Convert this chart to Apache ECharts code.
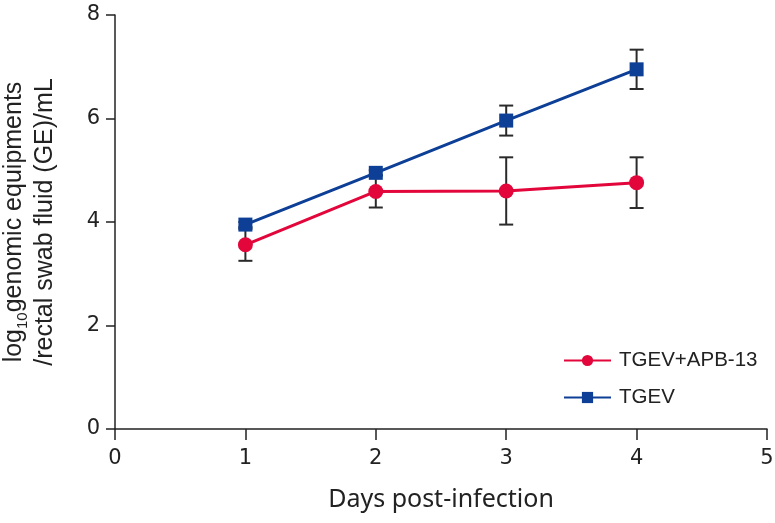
<!DOCTYPE html>
<html><head><meta charset="utf-8">
<script src="https://cdn.jsdelivr.net/npm/echarts@6/dist/echarts.min.js"></script>
<style>html,body{margin:0;padding:0;background:#fff}#c{width:775px;height:523px}</style>
</head><body><div id="c"></div>
<script>
const days = [1, 2, 3, 4];
const seriesNames = ['TGEV+APB-13', 'TGEV'];
const apbMean = [3.56, 4.59, 4.60, 4.76];
const apbErr = [0.31, 0.31, 0.65, 0.49];
const tgevMean = [3.95, 4.95, 5.96, 6.95];
const tgevErr = [0.05, 0.05, 0.29, 0.38];
const xMin = 0, xMax = 5, xStep = 1;
const yMin = 0, yMax = 8, yStep = 2;

const red = '#e2063b';
const blue = '#0d3f96';
const ink = '#222222';
const baseFont = 'Liberation Sans, Arial, sans-serif';
const tickFont = 'DejaVu Sans, sans-serif';

function pts(mean) { return days.map((d, i) => [d, mean[i]]); }
function errs(mean, err) { return days.map((d, i) => [d, mean[i] - err[i], mean[i] + err[i]]); }

function renderErr(params, api) {
  const x = api.value(0), lo = api.value(1), hi = api.value(2);
  const p1 = api.coord([x, lo]), p2 = api.coord([x, hi]);
  const hw = 7;
  const style = { stroke: '#2a2a2a', lineWidth: 2 };
  return { type: 'group', children: [
    { type: 'line', shape: { x1: p1[0], y1: p1[1], x2: p2[0], y2: p2[1] }, style },
    { type: 'line', shape: { x1: p1[0] - hw, y1: p1[1], x2: p1[0] + hw, y2: p1[1] }, style },
    { type: 'line', shape: { x1: p2[0] - hw, y1: p2[1], x2: p2[0] + hw, y2: p2[1] }, style }
  ]};
}

const chart = echarts.init(document.getElementById('c'), null, { renderer: 'canvas' });
chart.setOption({
  animation: false,
  backgroundColor: '#ffffff',
  grid: { left: 115, right: 8, top: 15, bottom: 94, containLabel: false, outerBoundsMode: 'none' },
  xAxis: {
    type: 'value', min: xMin, max: xMax, interval: xStep,
    axisLine: { lineStyle: { color: ink, width: 1.5 } },
    axisTick: { show: true, inside: false, length: 11, lineStyle: { color: ink, width: 1.5 } },
    splitLine: { show: false },
    axisLabel: { fontSize: 21, color: ink, margin: 19, fontFamily: tickFont },
    name: 'Days post-infection', nameLocation: 'middle', nameGap: 58,
    nameTextStyle: { fontSize: 25, color: ink, fontFamily: 'Noto Sans, sans-serif' }
  },
  yAxis: {
    type: 'value', min: yMin, max: yMax, interval: yStep,
    axisLine: { show: true, lineStyle: { color: ink, width: 1.5 } },
    axisTick: { show: true, inside: false, length: 9, lineStyle: { color: ink, width: 1.5 } },
    splitLine: { show: false },
    axisLabel: { fontSize: 21, color: ink, margin: 15, fontFamily: tickFont },
    name: 'log{sub|10}genomic equipments\n/rectal swab fluid (GE)/mL',
    nameLocation: 'middle', nameGap: 54, nameRotate: 90,
    nameTextStyle: {
      fontSize: 25, color: ink, fontFamily: baseFont, lineHeight: 31,
      rich: { sub: { fontSize: 15, color: ink, fontFamily: baseFont, verticalAlign: 'bottom', padding: [9, 0, 0, 0] } }
    }
  },
  legend: {
    orient: 'vertical', left: 558, top: 345,
    itemWidth: 47, itemHeight: 14, itemGap: 16,
    textStyle: { fontSize: 20.5, color: ink, fontFamily: baseFont, padding: [0, 0, 0, 3] },
    data: seriesNames
  },
  series: [
    { type: 'custom', name: 'err1', renderItem: renderErr, data: errs(apbMean, apbErr), encode: { x: 0, y: [1, 2] }, z: 1, silent: true },
    { type: 'custom', name: 'err2', renderItem: renderErr, data: errs(tgevMean, tgevErr), encode: { x: 0, y: [1, 2] }, z: 1, silent: true },
    { type: 'line', name: seriesNames[0], data: pts(apbMean), symbol: 'circle', symbolSize: 15,
      lineStyle: { color: red, width: 3 }, itemStyle: { color: red }, z: 3 },
    { type: 'line', name: seriesNames[1], data: pts(tgevMean), symbol: 'rect', symbolSize: 14,
      lineStyle: { color: blue, width: 3 }, itemStyle: { color: blue }, z: 4 }
  ]
});
</script>
</body></html>
